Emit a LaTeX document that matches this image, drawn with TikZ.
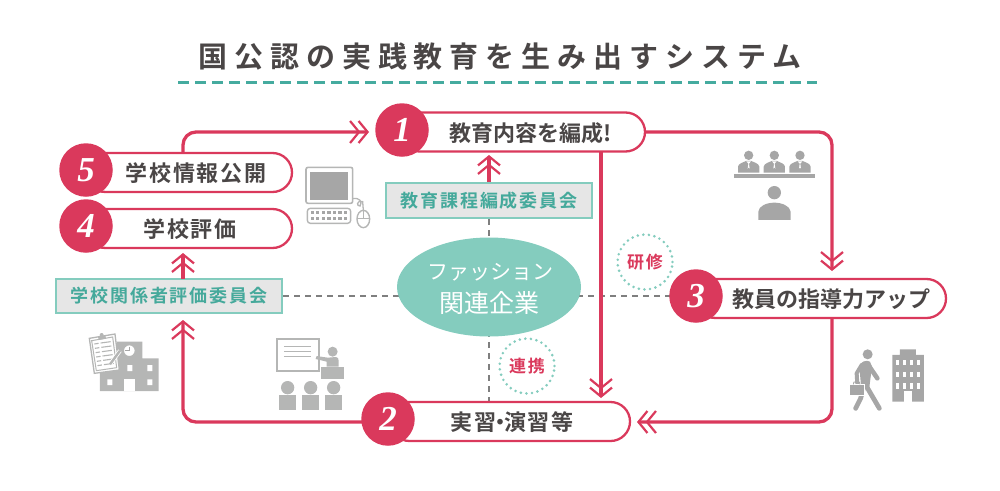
\documentclass[tikz,border=0pt]{standalone}
\usepackage{fontspec}
\usetikzlibrary{arrows.meta,shapes.geometric,shapes.misc}
\newfontfamily\jpm[LetterSpace=8]{Noto Sans CJK JP Bold}
\newfontfamily\jpk{Noto Sans CJK JP Bold}
\newfontfamily\jpb[LetterSpace=11]{Noto Sans CJK JP Bold}
\newfontfamily\jpt[LetterSpace=24]{Noto Sans CJK JP Bold}
\newfontfamily\jpl{Noto Sans CJK JP}
\newfontfamily\numf{Liberation Serif Bold Italic}
\definecolor{rosered}{HTML}{DA395C}
\definecolor{tealline}{HTML}{45AB9F}
\definecolor{tealtext}{HTML}{45A99B}
\definecolor{mint}{HTML}{84CCBE}
\definecolor{panelgray}{HTML}{E6E6E6}
\definecolor{inkgray}{HTML}{4A4646}
\definecolor{icongray}{HTML}{A6A6A6}
\definecolor{iconlight}{HTML}{B5B6B5}
\definecolor{dashgray}{HTML}{7F7F7F}
\tikzset{
  pill/.style={rounded rectangle,draw=rosered,fill=white,line width=2.3pt,minimum height=39pt,inner sep=0pt},
  numdot/.style={circle,fill=rosered,minimum size=53.5pt,inner sep=0pt,text=white,font=\numf\fontsize{35}{35}\selectfont},
  pilltext/.style={text=inkgray,font=\jpm\fontsize{22}{22}\selectfont,inner sep=0pt,anchor=center},
  committee/.style={draw=mint,fill=panelgray,line width=2pt,inner sep=0pt,text=tealtext,font=\jpb\fontsize{18}{18}\selectfont},
  flow/.style={draw=rosered,line width=3.3pt,rounded corners=13pt},
  chev/.style={-{Straight Barb[length=9pt,width=22pt,line width=2.2pt,sep=-3pt] Straight Barb[length=9pt,width=22pt,line width=2.2pt]}},
  link/.style={draw=dashgray,line width=1.8pt,dash pattern=on 6pt off 5pt},
  dotring/.style={circle,draw=mint,line width=2.9pt,line cap=round,dash pattern=on 0pt off 5.6pt,minimum size=55pt,inner sep=0pt,text=rosered,font=\jpb\fontsize{17}{17}\selectfont},
  icon/.style={fill=icongray,draw=none},
  iconl/.style={fill=iconlight,draw=none},
}
\begin{document}
\begin{tikzpicture}[x=1pt,y=-1pt]
\useasboundingbox (0,0) rectangle (1000,490);
% title
\node[text=inkgray,inner sep=0pt,font=\jpt\fontsize{29}{29}\selectfont] (title) at (500,57) {国公認の実践教育を生み出すシステム};
\coordinate (ruleL) at (178,82); \coordinate (ruleR) at (817,82);
\draw[tealline,line width=3pt,dash pattern=on 11pt off 6pt] (ruleL) -- (ruleR);
% committees
\node[committee,minimum width=226pt,minimum height=34pt] (cmA) at (169,296) {学校関係者評価委員会};
\node[committee,minimum width=206pt,minimum height=35pt] (cmB) at (489,200.5) {教育課程編成委員会};
% junctions
\coordinate (hubc) at (489,287);
\coordinate (j5) at (183,152);
\coordinate (j4) at (183,249);
\coordinate (jA) at (183,279);
\coordinate (jA2) at (183,313);
\coordinate (j1) at (601,152);
\coordinate (j2) at (601,401);
\coordinate (j3) at (832,319);
\coordinate (j3top) at (832,278);
\coordinate (j2r) at (630,422);
\coordinate (j1b) at (489,152);
\coordinate (j2t) at (489,401);
\coordinate (j3l) at (670,296);
% dashed links
\draw[link] (cmA.east) -- (cmA.east -| hubc);
\draw[link] (hubc |- j3l) -- (j3l);
\draw[link] (cmB.south) -- (hubc);
\draw[link] (hubc) -- (j2t);
% centre
\node[ellipse,fill=mint,minimum width=184pt,minimum height=99pt,inner sep=0pt] (hub) at (hubc) {};
% flows
\draw[flow,chev,shorten >=7pt] (j5) |- (376,132);
\draw[flow,chev,shorten >=3pt] (j1) -- (j2);
\draw[flow,chev,shorten >=7pt] (645,132) -| (j3top);
\draw[flow,chev,shorten >=7pt] (j3) |- (j2r);
\draw[flow,chev,shorten >=7pt] (375,422) -| (jA2);
\draw[flow,chev,shorten >=4pt] (jA) -- (j4);
\draw[flow,chev,shorten >=3pt] (cmB.north) -- (j1b);
% pills on top
\node[pill,minimum width=245pt] (p1) at (522.5,132) {};
\node[pill,minimum width=240pt] (p2) at (510,421.5) {};
\node[pill,minimum width=250pt] (p3) at (821,298.5) {};
\node[pill,minimum width=206pt] (p4) at (189,228.5) {};
\node[pill,minimum width=206pt] (p5) at (189,172.5) {};
\node[numdot] (n1) at (402,130) {1};
\node[numdot] (n2) at (388,419) {2};
\node[numdot] (n3) at (696,296) {3};
\node[numdot] (n4) at (86,226) {4};
\node[numdot] (n5) at (86,170) {5};
\node[pilltext,font=\jpk\fontsize{22}{22}\selectfont] (t1) at (531,133) {教育内容を編成!};
\node[pilltext] (t2) at (512,422) {実習\kern-.32em・\kern-.32em演習等};
\node[pilltext,font=\jpk\fontsize{22}{22}\selectfont] (t3) at (831,299) {教員の指導力アップ};
\node[pilltext] (t4) at (190,229) {学校評価};
\node[pilltext] (t5) at (196,173) {学校情報公開};
% hub text
\node[text=white,inner sep=0pt,font=\jpl\fontsize{21}{21}\selectfont] (h1) at (490,272) {ファッション};
\node[text=white,inner sep=0pt,font=\jpl\fontsize{25}{25}\selectfont] (h2) at (489,303) {関連企業};
% rings
\node[dotring] (r1) at (645,262) {研修};
\node[dotring] (r2) at (527,366) {連携};
% computer icon (zoom units)
\begin{scope}[shift={(300,160)},x=0.3333pt,y=-0.3333pt]
\draw[fill=white,draw=iconlight,line width=1.6pt,rounded corners=2pt] (18,22) rectangle (158,130);
\fill[icongray] (30,36) rectangle (145,120);
\draw[draw=iconlight,line width=1.4pt,rounded corners=3pt] (22,145) rectangle (152,190);
\foreach \u in {37,53,70,87,104,120,137} \foreach \v in {158,175} \fill[icongray] (\u-5,\v-5) rectangle (\u+5,\v+5);
\draw[draw=iconlight,line width=1.4pt] (190,177) ellipse (19 and 26);
\draw[draw=iconlight,line width=1.2pt] (190,151) -- (190,175) (171,175) -- (209,175);
\draw[draw=iconlight,line width=1.3pt] (158,116) .. controls (180,112) and (188,126) .. (180,138) .. controls (170,140) and (168,120) .. (188,125) -- (190,151);
\end{scope}
% school + clipboard (zoom units)
\begin{scope}[shift={(60,320)},x=0.3333pt,y=-0.3333pt]
\fill[iconl] (170,65) rectangle (247,115) (120,115) rectangle (296,213);
\fill[white] (192,178) rectangle (225,213);
\fill[white] (202,135) rectangle (217,153) (262,135) rectangle (277,153) (142,178) rectangle (157,195) (262,178) rectangle (277,195);
\draw[fill=white,draw=iconlight,line width=1.3pt] (208,92) circle (18);
\draw[draw=icongray,line width=1.1pt] (208,80) -- (208,92) -- (196,92);
\draw[fill=white,draw=iconlight,line width=1.3pt] (88,55) -- (165,42) -- (178,150) -- (103,160) -- cycle;
\draw[draw=iconlight,line width=1pt] (95,62) -- (158,51) -- (170,143) -- (109,152) -- cycle;
\fill[iconl] (114,50) -- (136,46) -- (138,56) -- (116,60) -- cycle;
\fill[iconl] (125,45) circle (6);
\foreach \k in {0,1,2,3,4,5} {
  \draw[draw=iconlight,line width=1.1pt] (103+1.9*\k,72+13*\k) -- (116+1.9*\k,70+13*\k);
  \draw[draw=iconlight,line width=1.1pt] (122+1.9*\k,69+13*\k) -- (152+1.9*\k,65+13*\k);
}
\draw[draw=white,line width=4pt] (150,133) -- (180,92);
\draw[draw=iconlight,line width=2.4pt] (150,133) -- (180,92);
\end{scope}
% classroom (zoom units)
\begin{scope}[shift={(60,320)},x=0.3333pt,y=-0.3333pt]
\draw[draw=iconlight,line width=2.2pt] (651,57) rectangle (777,152);
\foreach \v in {80,95,110} \draw[draw=iconlight,line width=1.2pt] (672,\v) -- (752,\v);
\fill[iconl] (818,95) circle (15);
\fill[iconl] (783,140) rectangle (852,177);
\fill[iconl] (800,140) -- (800,125) -- (767,117) -- (770,108) -- (803,113) -- (828,111) .. controls (834,111) and (836,116) .. (836,122) -- (836,140) -- cycle;
\foreach \u in {683,752,821} {
  \fill[iconl] (\u,203) circle (20);
  \fill[iconl] (\u-26,226) rectangle (\u+25,270);
}
\end{scope}
% panel interview + walker + office (zoom units)
\begin{scope}[shift={(660,100)},x=0.3333pt,y=-0.3333pt]
\foreach \u in {266,343,420} {
  \fill[icon] (\u,166) circle (14);
  \fill[icon] (\u-32,218) -- (\u-32,200) .. controls (\u-30,190) and (\u-18,188) .. (\u-8,183) -- (\u+8,183) .. controls (\u+18,188) and (\u+30,190) .. (\u+32,200) -- (\u+32,218) -- cycle;
  \fill[white] (\u-7,184) -- (\u,192) -- (\u+7,184) -- cycle;
  \fill[white] (\u-1,192) -- (\u-3,206) -- (\u,202) -- (\u+3,206) -- (\u+1,192) -- cycle;
}
\fill[icon] (222,222) rectangle (465,233);
\fill[icon] (343,278) circle (20);
\fill[icon] (295,360) -- (295,335) .. controls (296,318) and (320,308) .. (343,308) .. controls (366,308) and (390,318) .. (392,335) -- (392,360) -- cycle;
% walker
\fill[icon] (623,763) circle (15);
\draw[draw=icongray,line width=4.6pt,line cap=round,line join=round] (625,795) -- (652,835);
\draw[draw=icongray,line width=4pt,line cap=round,line join=round] (605,795) -- (590,820) -- (592,852);
\fill[icon] (598,798) .. controls (602,786) and (618,778) .. (630,785) -- (636,800) -- (628,862) -- (604,868) -- cycle;
\draw[draw=icongray,line width=4.8pt,line cap=round,line join=round] (620,860) -- (658,925);
\draw[draw=icongray,line width=4.8pt,line cap=round,line join=round] (610,865) -- (602,895) -- (587,925);
\draw[draw=white,line width=.6pt,fill=icongray] (568,853) rectangle (612,885);
\draw[draw=icongray,line width=.9pt] (580,853) -- (582,846) -- (598,846) -- (600,853);
% office
\fill[icon] (720,748) rectangle (768,765) (697,765) rectangle (792,905);
\foreach \v in {780,815,850} \foreach \u in {709,730,751,772} \fill[white] (\u,\v) rectangle (\u+9,\v+16);
\fill[white] (733,872) rectangle (757,905);
\end{scope}
\end{tikzpicture}
\end{document}
